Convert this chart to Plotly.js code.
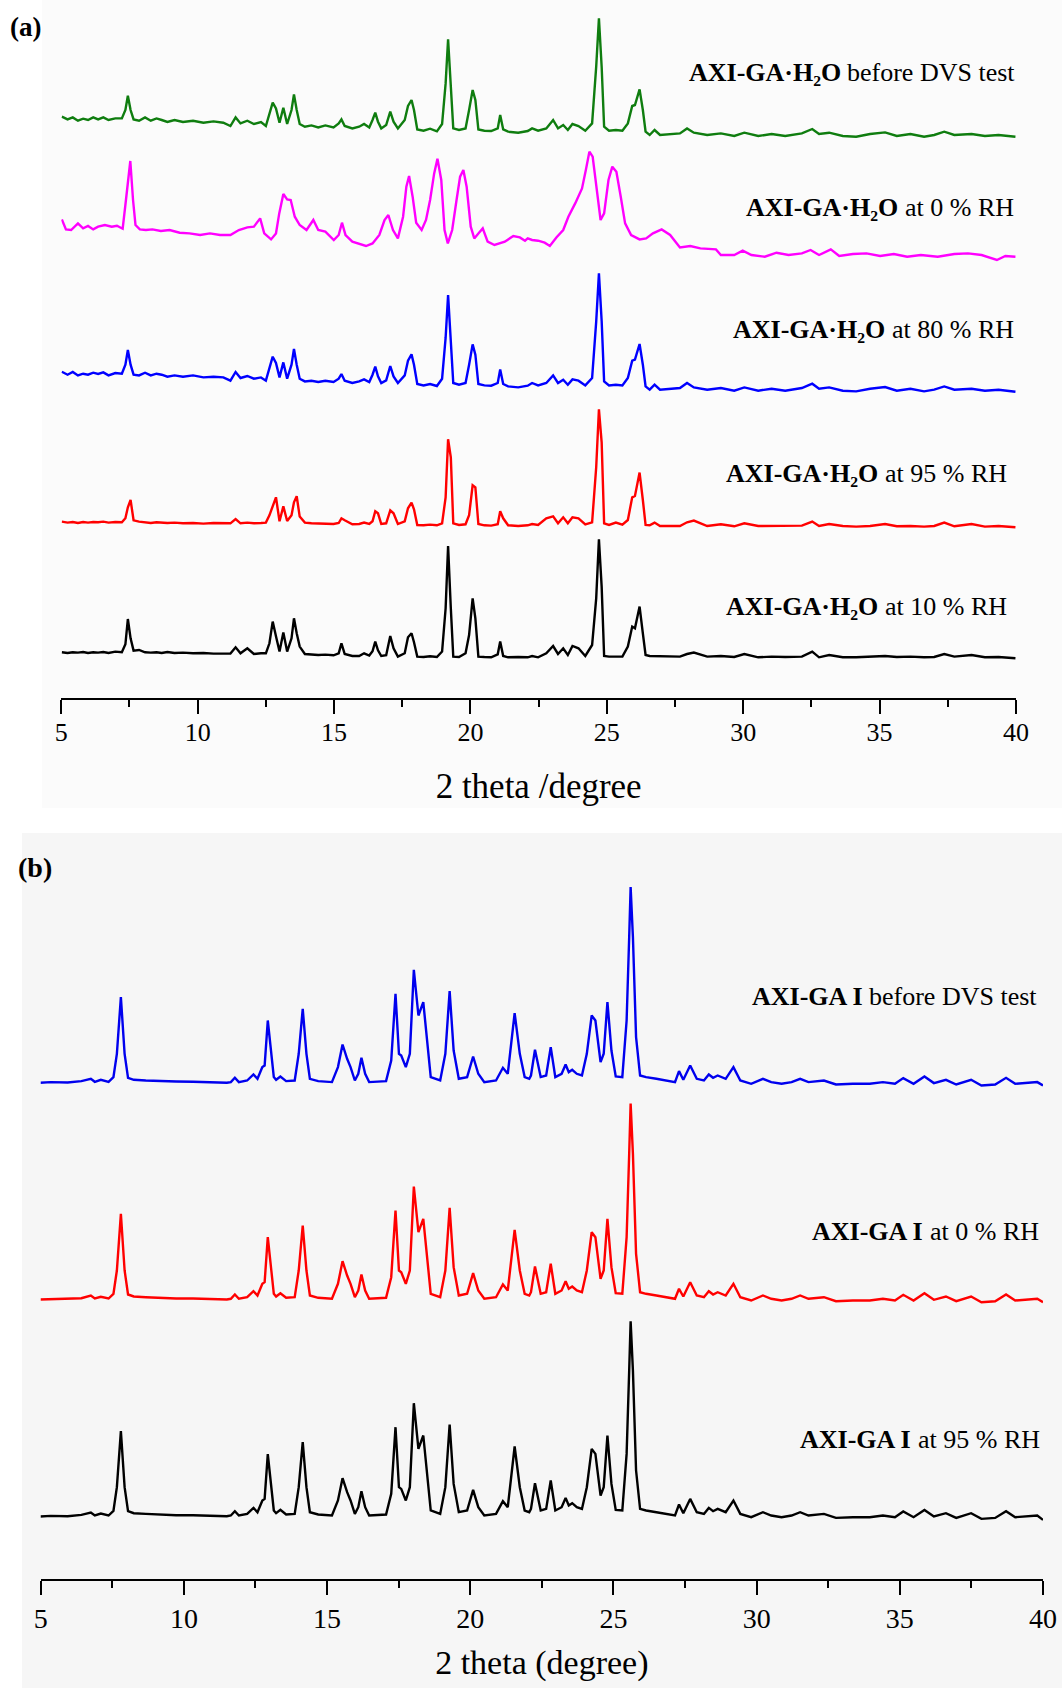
<!DOCTYPE html>
<html>
<head>
<meta charset="utf-8">
<script src="https://cdn.plot.ly/plotly-3.0.1.min.js"></script>
<style>html,body{margin:0;padding:0;background:#fff;}#chart{width:1062px;height:1688px;}</style>
</head>
<body>
<div id="chart"></div>
<script>
// ---------- Panel (a): AXI-GA·H2O ----------
const twoThetaA = [5.02,5.23,5.42,5.61,5.80,5.98,6.17,6.35,6.54,6.73,6.98,7.22,7.35,7.44,7.54,7.65,7.85,8.07,8.28,8.49,8.68,8.89,9.15,9.46,9.83,10.21,10.58,10.94,11.20,11.39,11.57,11.82,12.06,12.32,12.50,12.63,12.75,12.87,13.00,13.14,13.28,13.44,13.53,13.63,13.74,13.93,14.17,14.42,14.68,14.98,15.17,15.27,15.39,15.67,15.92,16.10,16.29,16.41,16.51,16.61,16.73,16.91,17.06,17.18,17.34,17.59,17.71,17.84,17.93,18.05,18.28,18.52,18.77,18.96,19.09,19.18,19.28,19.37,19.58,19.82,19.95,20.08,20.18,20.29,20.51,20.76,21.00,21.09,21.20,21.38,21.75,22.10,22.26,22.48,22.78,23.03,23.21,23.40,23.57,23.74,23.96,24.21,24.46,24.61,24.71,24.81,24.90,25.08,25.33,25.57,25.77,25.93,26.03,26.20,26.32,26.42,26.57,26.75,26.95,27.31,27.68,27.94,28.19,28.68,29.18,29.67,30.04,30.55,31.04,31.54,32.15,32.53,32.78,33.15,33.65,34.14,34.65,35.20,35.63,36.13,36.63,37.00,37.37,37.74,38.37,38.86,39.36,39.98];

const intensityA_beforeDVS = [20,17.3,19.3,16,18,16.7,19.3,17.3,19.3,16.7,18.3,18.3,26.7,41,26.7,17.3,16,19.3,16,18.3,16.7,14.7,16.7,14.7,16,14,15.3,14,10.7,19.3,13.3,16,12.7,14.7,10.7,23.3,34,28.3,14,29,12.7,26.7,42.3,26.7,12.7,10,11.3,9.3,11.3,9.3,13.3,17.3,10.7,8.3,10,12.7,9.3,16.7,24,15,8.3,11.7,25,15,8.3,16.7,30.7,36.7,26.7,7.3,6,8,5.3,12.7,53.3,97.3,53.3,8.3,6.7,8.3,26.7,46.7,36.7,7.3,6,5.7,8.3,21.7,7.3,5,4,5.7,8.3,6,8.3,16.7,8.3,11.7,6.7,12.7,10.7,6,13.3,70,118.3,70,10,6,6.7,6,13.3,30.7,31.7,47.3,26.7,5,1.7,6.7,1.7,2.7,3.3,8.3,4,1.7,3.3,0.7,4,0.7,2.7,0.7,3.3,7.7,2.7,4,0.7,0,2.7,4.3,0.7,2.7,0,1.7,5,1.7,2.7,0.7,1.7,0];

const intensityA_80RH = [20,17,19.7,16.3,18,17,19,17.7,19.3,16.3,18.7,18,27,41.7,27,17,16.3,19,16.3,18,17,15,16.3,15,16.3,14.3,15,14.3,11,19.7,13.7,15.7,13,14.3,11,24,35,28.7,14.3,29.3,13,27,42.7,27,13,10.3,11,9.7,11,9.7,13,17.7,11,8.7,10.3,12.3,9.7,17,25,15.3,8.7,11.3,25.7,15.3,8.7,16.3,31,37.3,27,7.7,6.3,7.7,5.7,13,54,96.7,54,8.7,7,8.7,27,47.3,37,7.7,6.3,6,8.7,22.3,7.7,5.3,4.3,6,8.7,6.3,8.7,16.3,8.7,12,7,12.3,11,6.3,13.7,70,118.3,70.7,10.3,6.3,7,6.3,13.7,31,32,47.7,27,5.3,2,7,2,3,3.7,8.7,4.3,2,3.7,1,4.3,1,3,1,3.7,8,3,4.3,1,0.3,3,4.7,1,3,0.3,2,5.3,2,3,1,2,0];

const intensityA_95RH = [5.7,4.7,5.3,4.3,5.3,4.7,5.3,5,5.7,4.7,5.3,5,9,20,27.3,7,5.7,5,4.3,5,4.7,4.3,4.7,4,4.3,3.7,4.3,3.7,4,8.3,4,4.7,4,4.3,4.7,12,22,30,6,21,6.3,12,25,31,10.7,4.7,4,3.7,4,3.3,4.3,9,7,3,3.3,4.7,3.3,6,16,14,3.3,4,17,14,3.3,6,19,24.7,18,2.3,2,2.7,2,4,30,88,70,4,2.3,3,12,42,40,3.3,2,1.7,3,16,9,2,1.3,2,3.3,2.3,9,11,4,10,4,10,9,3,5,60,118,85,4,2.3,4.7,2.7,7.3,30,31.3,54.7,27.3,2.3,2,4.7,1.3,1.3,1.3,5,6.7,1.3,3,1,4,1.3,1.3,1,1.7,5.7,1.3,3.3,1.3,0.7,1.3,3.3,1,1.3,0.7,1.3,4.7,1,3.3,0.7,1.3,0];

const intensityA_10RH = [6,5.3,6,5.7,6.3,5.3,6,5.7,6.3,5.3,6.7,6,14,39.3,20,7.7,8.3,6,5.7,6,5.3,6.3,5.3,5.7,5,5.3,4.7,5,4.7,11,5,10,4.3,5,5,15,36.7,22,6.7,25.7,6.7,20,40,25,11.7,4.3,3.7,3.3,3.7,3,5,15,4.3,2.3,2.3,5,2.7,7,16.7,8,2.3,3,22.3,10,1.7,5,21,25,16,1.7,1.3,2,1.3,6.7,50,112.3,50,1.7,1.3,5,23.3,60,40,1.7,1.3,1,4,16.7,2.3,1,1.3,1,2.3,1,5,12.3,4.3,10,3.3,12.3,10,2.3,13.3,60,119,71.7,2.3,1.7,1.7,1.7,11.7,31.7,30,51.7,25,3.3,2.3,2.3,1.7,1.7,1.7,4.3,5.7,1.7,2.3,1.3,4.3,1,1.7,1.3,1.7,6.7,1,3.3,1,1,1.3,2.3,1.3,1.7,1,1.3,4.3,1.7,3.3,1,1.3,0];

const twoThetaA_0RH = [5.02,5.17,5.36,5.61,5.80,5.98,6.17,6.35,6.60,6.85,7.04,7.25,7.37,7.53,7.63,7.72,7.88,8.10,8.34,8.65,8.97,9.34,9.70,10.09,10.45,10.82,11.20,11.51,11.82,12.06,12.29,12.44,12.69,12.87,12.99,13.14,13.28,13.41,13.56,13.74,13.99,14.24,14.42,14.68,14.99,15.17,15.29,15.42,15.67,15.92,16.17,16.41,16.66,16.85,16.99,17.16,17.34,17.53,17.65,17.75,17.88,18.01,18.21,18.37,18.52,18.67,18.79,18.93,19.05,19.17,19.33,19.49,19.62,19.74,19.86,20.01,20.14,20.29,20.45,20.63,20.88,21.26,21.57,21.81,22.00,22.10,22.26,22.48,22.72,22.91,23.15,23.40,23.59,23.84,24.09,24.23,24.36,24.48,24.61,24.77,24.90,25.06,25.20,25.35,25.51,25.67,25.89,26.20,26.44,26.69,27.01,27.32,27.68,28.06,28.43,29.00,29.18,29.67,29.98,30.30,30.79,31.22,31.66,32.15,32.47,32.78,33.21,33.52,34.02,34.52,35.02,35.52,36.01,36.51,37.13,37.74,38.24,38.74,39.30,39.61,39.98];

const intensityA_0RH = [37.3,27.3,26.7,33.3,28.3,30.7,27.3,30,31.7,30,31,28,56.7,95.7,56.7,31.7,27.3,26.7,27.3,25.7,26.7,24,23.3,21.7,23.3,21.7,21.7,26.7,29.3,30,38.3,23.3,17.3,23.3,43.3,62.7,57.3,56.7,40,31.7,26.7,36.7,26.7,25,16.7,21.7,34,21.7,15,12.7,10.7,13.3,21.7,36.7,41.7,26.7,18.3,40,70,80.7,60,34,26.7,36.7,56.7,83.3,98,76.7,26.7,13.3,26.7,56.7,80,86.7,70,30,18.3,23.3,28.3,15,11.7,15,20.7,19.3,16,18.3,16.7,16,14,10.7,19.3,26.7,40,53.3,68.3,86.7,105,100,70,36.7,43.3,76.7,90,85,60,33.3,21.7,17.3,18.3,23.3,27.3,21.7,9.3,10.7,8.3,7.3,1.7,1.7,6,1.7,0,4,1.7,3.3,6.7,1.7,7.3,0.7,2.7,3.3,0.7,2.7,0,1.7,0,2.7,3.3,1.7,-3.3,0.7,0];

// ---------- Panel (b): AXI-GA I ----------
const twoThetaB = [4.98,5.35,5.94,6.42,6.75,6.89,7.10,7.37,7.54,7.66,7.80,7.93,8.05,8.25,8.67,9.13,9.73,10.32,10.91,11.50,11.64,11.78,11.92,12.21,12.43,12.57,12.74,12.82,12.93,13.04,13.14,13.22,13.37,13.57,13.87,14.01,14.15,14.28,14.40,14.69,15.17,15.38,15.54,15.70,15.82,15.97,16.09,16.20,16.33,16.47,17.06,17.24,17.39,17.51,17.59,17.75,17.89,18.03,18.19,18.36,18.48,18.62,18.95,19.13,19.28,19.42,19.60,19.89,20.10,20.28,20.49,20.90,21.14,21.31,21.55,21.73,21.90,22.06,22.12,22.26,22.46,22.65,22.81,22.97,23.19,23.33,23.44,23.56,23.72,23.90,24.07,24.24,24.37,24.55,24.66,24.79,24.93,25.08,25.31,25.46,25.55,25.60,25.68,25.79,25.93,26.14,26.50,26.97,27.15,27.29,27.44,27.68,27.91,28.16,28.33,28.48,28.64,28.92,29.19,29.43,29.81,30.22,30.51,30.87,31.22,31.52,31.81,32.35,32.77,33.36,33.95,34.41,34.83,35.12,35.48,35.86,36.19,36.61,36.97,37.49,37.85,38.33,38.71,39.03,39.50,39.80,40.00];

const intensityB_beforeDVS = [1,1.7,1.3,2.7,5,2,4,2,6.7,30,86.7,30,6,4,3.3,2.7,2.3,2,1.3,1,1.7,6,1.7,3.3,9.3,5,16.7,18.3,63.3,33.3,6.7,4,7.3,2.7,3.3,30,75,30,5,2.7,1.7,16.7,39.3,25,16.7,3.3,10,26,10,1.7,2.7,23.3,90,30,28.3,16.7,30,114,68.3,81.7,50,6.7,3.3,30,92.7,33.3,5,6.7,27.3,10,1.7,3.3,16,10,70.7,30,6.7,5,8.3,34,6.7,8.3,36.7,6.7,10,19.3,11.7,14,10,8.3,30,68.3,63.3,21.7,30,81.7,33.3,7.3,6.7,63.3,146.7,196.7,146.7,46.7,8.3,6.7,5,2.7,1.7,12.7,4,18.3,5,3.3,9.3,6,8.3,5,16.7,3.3,0,5,1.7,0,1.7,5,1.7,3.3,-0.7,0,0,1.7,0,5.7,0,7.3,0.7,4,-0.7,4,-1.7,-0.7,6,0,1.3,1.7,-1.7];

const intensityB_0RH = [1,1.3,1.7,2.3,5,2,3.7,2,6.7,30,86.7,30,6,4,3.3,2.7,2,2,1.3,1,1.7,6,1.7,3.3,9.3,5,16.7,18.3,63.3,33.3,6.7,4,7.3,2.7,3.3,30,75,30,5,2.7,1.7,16.7,39.3,25,16.7,3.3,10,26,10,1.7,2.7,23.3,90,30,28.3,16.7,30,114,68.3,81.7,50,6.7,3.3,30,92.7,33.3,5,6.7,27.3,10,1.7,3.3,16,10,70.7,30,6.7,5,8.3,34,6.7,8.3,36.7,6.7,10,19.3,11.7,14,10,8.3,30,68.3,63.3,21.7,30,81.7,33.3,7.3,6.7,63.3,146.7,197,146.7,46.7,8.3,6.7,5,2.7,1.7,11.7,4,18.3,5,3.3,9.3,6,8.3,5,16.7,3.3,0,5,1.7,0,1.7,5,1.7,3.3,-0.7,0,0,1.7,0,5.7,0,7.3,0.7,4,-0.7,4,-1.7,-0.7,6,0,1.3,1.7,-1.7];

const intensityB_95RH = [0.7,1.3,1,2.3,4.7,1.7,3.7,1.7,6.3,30,86,30,6,4,3.3,2.7,2,2,1.3,1,1.7,6,1.7,3.3,9.3,5,16.7,18.3,63,33.3,6.7,4,7.3,2.7,3.3,30,75,30,5,2.7,1.7,16.7,39,25,16.7,3.3,10,26,10,1.7,2.7,23.3,90,30,28.3,16.7,30,114,68.3,81.7,50,6.7,3.3,30,92.7,33.3,5,6.7,27.3,10,1.7,3.3,16,10,70.7,30,6.7,5,8.3,34,6.7,8.3,36.7,6.7,10,19.3,11.7,14,10,8.3,30,68.3,63.3,21.7,30,81.7,33.3,7.3,6.7,63.3,146.7,196,146.7,46.7,8.3,6.7,5,2.7,1.7,12.7,4,18.3,5,3.3,9.3,6,8.3,5,16.7,3.3,0,5,1.7,0,1.7,5,1.7,3.3,-0.7,0,0,1.7,0,5.7,0,7.3,0.7,4,-0.7,4,-1.7,-0.7,6,0,1.3,1.7,-2.7];

// ---------- labels ----------
const sampleA = 'AXI-GA·H₂O';
const conditionsA = ['before DVS test', 'at 0 % RH', 'at 80 % RH', 'at 95 % RH', 'at 10 % RH'];
const sampleB = 'AXI-GA I';
const conditionsB = ['before DVS test', 'at 0 % RH', 'at 95 % RH'];
const panelTags = ['(a)', '(b)'];
const xTitleA = '2 theta /degree';
const xTitleB = '2 theta (degree)';

// ---------- figure construction ----------
const W = 1062, H = 1688;
const FAM = 'Liberation Serif';
const FONT = 'Liberation Serif, "Times New Roman", Times, serif';
const LABEL_SIZE = 26;

const ctx = document.createElement('canvas').getContext('2d');
function textWidth(str, weight, size) {
  ctx.font = weight + ' ' + size + 'px "' + FAM + '", serif';
  return ctx.measureText(str).width;
}

// stacking offsets (vertical shift of each pattern, in plot units)
const panelA = [
  {x: twoThetaA,     y: intensityA_beforeDVS, off: 561.3, color: '#0f7d0f', labelY: 72,  labelR: 1015},
  {x: twoThetaA_0RH, y: intensityA_0RH,       off: 441.3, color: '#ff00ff', labelY: 208, labelR: 1014},
  {x: twoThetaA,     y: intensityA_80RH,      off: 306.3, color: '#0000ff', labelY: 330, labelR: 1014},
  {x: twoThetaA,     y: intensityA_95RH,      off: 170.7, color: '#ff0000', labelY: 473, labelR: 1007},
  {x: twoThetaA,     y: intensityA_10RH,      off: 39.7,  color: '#000000', labelY: 607, labelR: 1007}
];
const panelB = [
  {x: twoThetaB, y: intensityB_beforeDVS, off: 494.7, color: '#0000ee', labelY: 996,  labelR: 1037},
  {x: twoThetaB, y: intensityB_0RH,       off: 278,   color: '#ff0000', labelY: 1231, labelR: 1039},
  {x: twoThetaB, y: intensityB_95RH,      off: 61.3,  color: '#000000', labelY: 1439, labelR: 1040}
];

const traces = [];
panelA.forEach((s, i) => traces.push({
  type: 'scatter', mode: 'lines', x: s.x, y: s.y.map(v => v + s.off),
  xaxis: 'x', yaxis: 'y', name: sampleA + ' ' + conditionsA[i], hoverinfo: 'skip',
  line: {color: s.color, width: 2.4}
}));
panelB.forEach((s, i) => traces.push({
  type: 'scatter', mode: 'lines', x: s.x, y: s.y.map(v => v + s.off),
  xaxis: 'x2', yaxis: 'y2', name: sampleB + ' ' + conditionsB[i], hoverinfo: 'skip',
  line: {color: s.color, width: 2.4}
}));

function xAxis(domain, anchor, title, tickSize, titleSize, standoff, labelShift) {
  return {
    domain: domain, anchor: anchor, range: [5, 40],
    tickmode: 'linear', tick0: 5, dtick: 5,
    ticks: 'outside', ticklen: 14, tickwidth: 2, tickcolor: '#000',
    ticklabelstandoff: labelShift,
    minor: {ticks: 'outside', ticklen: 7, tickwidth: 2, tickcolor: '#000', tick0: 5, dtick: 2.5, showgrid: false},
    showline: true, linewidth: 2, linecolor: '#000',
    showgrid: false, zeroline: false,
    tickfont: {family: FONT, size: tickSize, color: '#000'},
    title: {text: title, font: {family: FONT, size: titleSize, color: '#000'}, standoff: standoff},
    fixedrange: true
  };
}

// each label = bold sample name + regular condition text, right-aligned as a unit
const annotations = [];
function addLabel(sample, condition, rightPx, centerPx) {
  const condW = textWidth(condition, 'normal', LABEL_SIZE);
  const spaceW = textWidth(' ', 'normal', LABEL_SIZE);
  const condLeft = rightPx - condW;
  const y = 1 - centerPx / H;
  annotations.push({xref: 'paper', yref: 'paper', x: (condLeft - spaceW) / W, y: y,
    xanchor: 'right', yanchor: 'middle', showarrow: false, text: sample,
    borderpad: 0, borderwidth: 0,
    font: {family: FONT, size: LABEL_SIZE, color: '#000', weight: 'bold'}});
  annotations.push({xref: 'paper', yref: 'paper', x: condLeft / W, y: y,
    xanchor: 'left', yanchor: 'middle', showarrow: false, text: condition,
    borderpad: 0, borderwidth: 0,
    font: {family: FONT, size: LABEL_SIZE, color: '#000', weight: 'normal'}});
}
panelA.forEach((s, i) => addLabel(sampleA, conditionsA[i], s.labelR, s.labelY));
panelB.forEach((s, i) => addLabel(sampleB, conditionsB[i], s.labelR, s.labelY));

annotations.push({xref: 'paper', yref: 'paper', x: 10 / W, y: 1 - 27 / H, xanchor: 'left', yanchor: 'middle',
  showarrow: false, text: panelTags[0], borderpad: 0, borderwidth: 0,
  font: {family: FONT, size: 27, color: '#000', weight: 'bold'}});
annotations.push({xref: 'paper', yref: 'paper', x: 18 / W, y: 1 - 867 / H, xanchor: 'left', yanchor: 'middle',
  showarrow: false, text: panelTags[1], borderpad: 0, borderwidth: 0,
  font: {family: FONT, size: 28, color: '#000', weight: 'bold'}});

const layout = {
  width: W, height: H,
  margin: {l: 0, r: 0, t: 0, b: 0, pad: 0},
  paper_bgcolor: '#ffffff', plot_bgcolor: 'rgba(0,0,0,0)',
  showlegend: false,
  font: {family: FONT, color: '#000'},
  xaxis: xAxis([61.3 / W, 1016 / W], 'y', xTitleA, 26, 35, 27, -4),
  yaxis: {domain: [1 - 698 / H, 1 - 10 / H], range: [0, 688], visible: false, fixedrange: true},
  xaxis2: xAxis([40.7 / W, 1043 / W], 'y2', xTitleB, 28, 34, 17, 0),
  yaxis2: {domain: [1 - 1578.5 / H, 1 - 860 / H], range: [0, 718.5], visible: false, fixedrange: true},
  shapes: [
    {type: 'rect', xref: 'paper', yref: 'paper', x0: 42 / W, x1: 1, y0: 1 - 808 / H, y1: 1, layer: 'below',
     fillcolor: '#fbfbfb', line: {width: 0}},
    {type: 'rect', xref: 'paper', yref: 'paper', x0: 22 / W, x1: 1, y0: 0, y1: 1 - 833 / H, layer: 'below',
     fillcolor: '#f6f6f6', line: {width: 0}}
  ],
  annotations: annotations
};

Plotly.newPlot('chart', traces, layout, {staticPlot: true, displayModeBar: false});
</script>
</body>
</html>
